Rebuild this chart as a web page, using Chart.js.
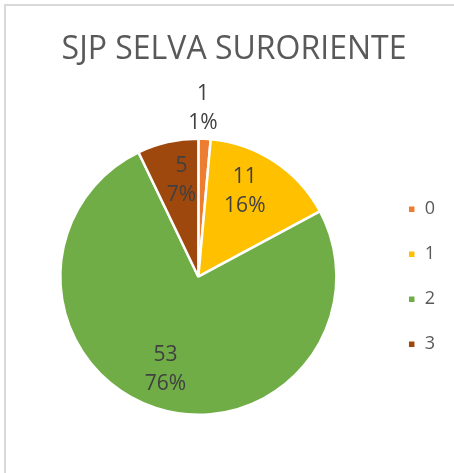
<!DOCTYPE html>
<html>
<head>
<meta charset="utf-8">
<script src="https://cdn.jsdelivr.net/npm/chart.js@4/dist/chart.umd.min.js"></script>
<style>
  html, body { margin: 0; padding: 0; background: #ffffff; overflow: hidden; }
  #frame {
    position: absolute; left: 4px; top: 4px; width: 600px; height: 600px;
    border-top: 2px solid #d9d9d9; border-left: 2px solid #d9d9d9;
  }
  #wrap { position: absolute; left: 0; top: 0; width: 454px; height: 473px; }
</style>
</head>
<body>
<div id="frame"></div>
<div id="wrap"><canvas id="chart" width="454" height="473"></canvas></div>
<script>
// Categories and counts
const categories = ['0', '1', '2', '3'];
const counts = [1, 11, 53, 5];
const sliceColors = ['#ED7D31', '#FFC000', '#70AD47', '#9E480E'];

// Label placement: distance from the centre (share of radius) and a small
// angular nudge (degrees) away from each slice's middle angle
const labelRadius = [1.22, 0.70, 0.712, 0.71];
const labelAngleShift = [-1, -4.7, 1.5, 2.9];

// Value + percentage labels for every slice
const sliceLabels = {
  id: 'sliceLabels',
  afterLayout(chart, args, opts) {
    // nudge the title block so the heading sits a little right of canvas centre
    const t = chart.titleBlock;
    if (t) { t.left += opts.titleShift; t.right += opts.titleShift; }
  },
  afterDatasetsDraw(chart, args, opts) {
    const ctx = chart.ctx;
    const meta = chart.getDatasetMeta(0);
    const data = chart.data.datasets[0].data;
    const total = data.reduce((a, b) => a + b, 0);
    ctx.save();
    ctx.font = opts.font;
    ctx.fillStyle = opts.color;
    ctx.textAlign = 'center';
    ctx.textBaseline = 'middle';
    meta.data.forEach((arc, i) => {
      const p = arc.getProps(['x', 'y', 'startAngle', 'endAngle', 'outerRadius'], true);
      const mid = (p.startAngle + p.endAngle) / 2 + opts.angleShift[i] * Math.PI / 180;
      const r = p.outerRadius * opts.radius[i];
      const cx = p.x + Math.cos(mid) * r;
      const cy = p.y + Math.sin(mid) * r;
      const pct = Math.round(data[i] / total * 100) + '%';
      ctx.fillText(String(data[i]), cx, cy - opts.gap / 2);
      ctx.fillText(pct, cx, cy + opts.gap / 2);
    });
    ctx.restore();
  }
};

new Chart(document.getElementById('chart'), {
  type: 'pie',
  data: {
    labels: categories,
    datasets: [{
      data: counts,
      backgroundColor: sliceColors,
      borderColor: '#ffffff',
      borderWidth: 2.5
    }]
  },
  plugins: [sliceLabels],
  options: {
    responsive: false,
    animation: false,
    layout: { padding: { left: 16, right: 9, top: 0, bottom: 57 } },
    plugins: {
      title: {
        display: true,
        text: 'SJP SELVA SURORIENTE',
        color: '#595959',
        font: { family: 'Open Sans', size: 32, weight: 'normal' },
        padding: { top: 31, bottom: 68 }
      },
      legend: {
        position: 'right',
        fullSize: false,
        labels: {
          boxWidth: 8,
          boxHeight: 8,
          padding: 27,
          color: '#595959',
          font: { family: 'Open Sans', size: 18 }
        }
      },
      tooltip: { enabled: false },
      sliceLabels: {
        font: '21px "Open Sans"',
        color: '#404040',
        gap: 29,
        radius: labelRadius,
        angleShift: labelAngleShift,
        titleShift: 3.5
      }
    }
  }
});
</script>
</body>
</html>
